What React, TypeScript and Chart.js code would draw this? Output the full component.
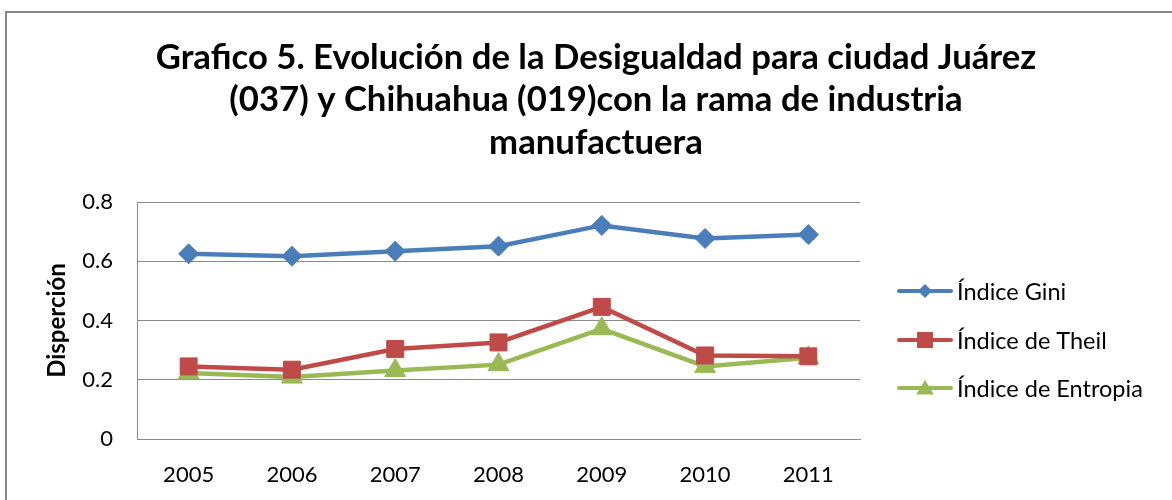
import React, { useEffect, useRef } from "react";
import { Chart, registerables } from "chart.js";

Chart.register(...registerables);

const categories = ["2005", "2006", "2007", "2008", "2009", "2010", "2011"];
const giniValues = [0.625, 0.617, 0.634, 0.651, 0.721, 0.677, 0.69];
const theilValues = [0.245, 0.234, 0.304, 0.326, 0.446, 0.282, 0.279];
const entropiaValues = [0.223, 0.209, 0.231, 0.251, 0.372, 0.245, 0.274];
const seriesNames = ["Índice Gini", "Índice de Theil", "Índice de Entropia"];
const titleLines = [
  "Grafico 5. Evolución de la Desigualdad para ciudad Juárez",
  "(037) y Chihuahua (019)con la rama de industria",
  "manufactuera",
];
const yAxisTitle = "Disperción";

const COLORS = ["#4A7EBB", "#BE4B48", "#98B954"];
const FONT = "Lato, 'Open Sans', sans-serif";

function drawMarker(ctx: CanvasRenderingContext2D, style: string, x: number, y: number, s: number) {
  ctx.beginPath();
  if (style === "rectRot") {
    ctx.moveTo(x, y - s);
    ctx.lineTo(x + s, y);
    ctx.lineTo(x, y + s);
    ctx.lineTo(x - s, y);
  } else if (style === "rect") {
    ctx.rect(x - s, y - s, 2 * s, 2 * s);
  } else {
    ctx.moveTo(x, y - s);
    ctx.lineTo(x + s * 1.1, y + s * 0.8);
    ctx.lineTo(x - s * 1.1, y + s * 0.8);
  }
  ctx.closePath();
  ctx.fill();
}

const decorPlugin = {
  id: "decor",
  beforeDraw(chart: any) {
    const ctx = chart.ctx as CanvasRenderingContext2D;
    ctx.save();
    ctx.fillStyle = "#ffffff";
    ctx.fillRect(0, 0, chart.width, chart.height);
    ctx.strokeStyle = "#878787";
    ctx.lineWidth = 2;
    ctx.strokeRect(6, 12, 1300, 700);
    ctx.restore();
  },
  afterDraw(chart: any) {
    const ctx = chart.ctx as CanvasRenderingContext2D;
    ctx.save();
    // title
    ctx.fillStyle = "#000000";
    ctx.font = `bold 34.7px ${FONT}`;
    ctx.textAlign = "center";
    ctx.textBaseline = "alphabetic";
    const baselines = [69, 111, 154];
    titleLines.forEach((t, i) => ctx.fillText(t, 596, baselines[i]));
    // legend
    const legendY = [291, 340, 388];
    const styles = ["rectRot", "rect", "triangle"];
    const sizes = [7, 8, 8];
    chart.data.datasets.forEach((ds: any, i: number) => {
      const y = legendY[i];
      ctx.strokeStyle = ds.borderColor;
      ctx.lineWidth = 4;
      ctx.lineCap = "round";
      ctx.beginPath();
      ctx.moveTo(899, y);
      ctx.lineTo(951, y);
      ctx.stroke();
      ctx.fillStyle = ds.borderColor;
      drawMarker(ctx, styles[i], 925, y, sizes[i]);
      ctx.fillStyle = "#000000";
      ctx.font = `23.5px ${FONT}`;
      ctx.textAlign = "left";
      ctx.textBaseline = "middle";
      ctx.fillText(ds.label, 957, y + 1);
    });
    ctx.restore();
  },
};

export default function App() {
  const canvasRef = useRef<HTMLCanvasElement | null>(null);

  useEffect(() => {
    if (!canvasRef.current) return;
    const chart = new Chart(canvasRef.current, {
      type: "line",
      data: {
        labels: categories,
        datasets: [
          {
            label: seriesNames[0],
            data: giniValues,
            borderColor: COLORS[0],
            backgroundColor: COLORS[0],
            pointStyle: "rectRot",
            pointRadius: 10,
            pointBorderWidth: 1,
            borderWidth: 4.5,
            tension: 0,
          },
          {
            label: seriesNames[1],
            data: theilValues,
            borderColor: COLORS[1],
            backgroundColor: COLORS[1],
            pointStyle: "rect",
            pointRadius: 12,
            pointBorderWidth: 1,
            borderWidth: 4.5,
            tension: 0,
          },
          {
            label: seriesNames[2],
            data: entropiaValues,
            borderColor: COLORS[2],
            backgroundColor: COLORS[2],
            pointStyle: "triangle",
            pointRadius: 12,
            pointBorderWidth: 1,
            borderWidth: 4.5,
            tension: 0,
          },
        ],
      },
      options: {
        animation: false,
        responsive: false,
        devicePixelRatio: 1,
        layout: { padding: { left: 0, right: 312, top: 202, bottom: 0 } },
        plugins: {
          legend: { display: false },
          title: { display: false },
          tooltip: { enabled: false },
        },
        scales: {
          x: {
            type: "category",
            offset: true,
            grid: { display: false, drawTicks: false },
            border: { display: true, color: "#8a8a8a", width: 1 },
            ticks: { color: "#000000", font: { family: FONT, size: 22 }, padding: 23, maxRotation: 0 },
            afterFit: (s: any) => {
              s.height = 61;
            },
          },
          y: {
            min: 0,
            max: 0.8,
            ticks: { stepSize: 0.2, color: "#000000", font: { family: FONT, size: 22 }, padding: 24 },
            grid: { color: "#8a8a8a", lineWidth: 1, drawTicks: false },
            border: { display: true, color: "#8a8a8a", width: 1 },
            title: {
              display: true,
              text: yAxisTitle,
              color: "#000000",
              font: { family: FONT, size: 24, weight: "bold" },
              padding: { top: 43, bottom: 0 },
            },
            afterFit: (s: any) => {
              s.width = 137;
            },
          },
        },
      },
      plugins: [decorPlugin],
    });
    return () => chart.destroy();
  }, []);

  return (
    <div style={{ position: "fixed", left: 0, top: 0, width: 1172, height: 500, overflow: "hidden", background: "#fff" }}>
      <canvas ref={canvasRef} width={1172} height={500} style={{ width: 1172, height: 500, display: "block" }} />
    </div>
  );
}
